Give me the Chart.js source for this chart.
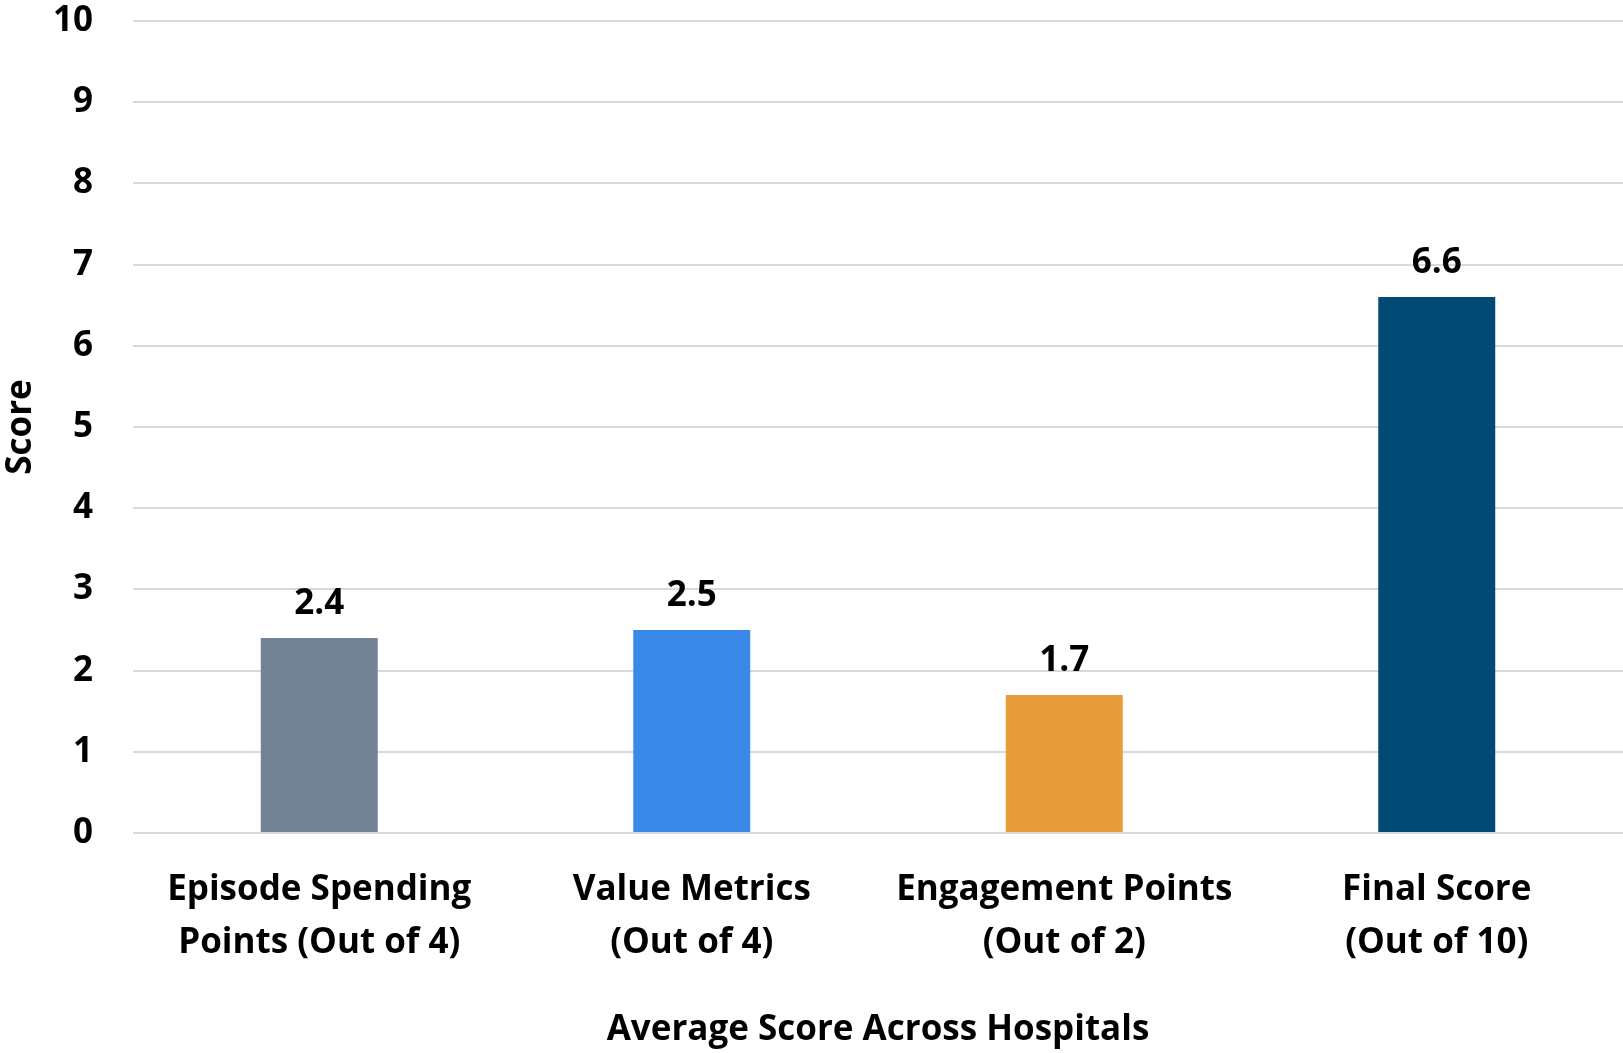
<!DOCTYPE html>
<html>
<head>
<meta charset="utf-8">
<script src="https://cdn.jsdelivr.net/npm/chart.js@4"></script>
<style>
  html, body { margin: 0; padding: 0; background: #fff; }
  #wrap { width: 1623px; height: 1053px; }
</style>
</head>
<body>
<div id="wrap"><canvas id="scoreChart"></canvas></div>
<script>
// chart data
const categories = [
  ["Episode Spending", "Points (Out of 4)"],
  ["Value Metrics", "(Out of 4)"],
  ["Engagement Points", "(Out of 2)"],
  ["Final Score", "(Out of 10)"]
];
const scores = [2.4, 2.5, 1.7, 6.6];
const barColors = ["#738395", "#3a89e8", "#e89b3a", "#024a74"];

const FONT = "'Open Sans', 'DejaVu Sans', sans-serif";

// draws the value above each bar
const valueLabels = {
  id: "valueLabels",
  afterDatasetsDraw(chart) {
    const ctx = chart.ctx;
    const meta = chart.getDatasetMeta(0);
    ctx.save();
    ctx.font = "bold 35px " + FONT;
    ctx.fillStyle = "#000";
    ctx.textAlign = "center";
    ctx.textBaseline = "middle";
    meta.data.forEach((bar, i) => {
      ctx.fillText(scores[i].toFixed(1), bar.x, bar.y - 34);
    });
    ctx.restore();
  }
};

const ctx = document.getElementById("scoreChart").getContext("2d");
new Chart(ctx, {
  type: "bar",
  data: {
    labels: categories,
    datasets: [
      {
        label: "Score",
        data: scores,
        backgroundColor: barColors,
        borderWidth: 0,
        barPercentage: 0.314,
        categoryPercentage: 1.0,
      },
    ],
  },
  options: {
    responsive: true,
    maintainAspectRatio: false,
    animation: false,
    layout: { padding: 0 },
    plugins: {
      legend: { display: false },
      tooltip: { enabled: false },
    },
    scales: {
      x: {
        grid: { display: false, drawTicks: false },
        border: { display: false },
        ticks: {
          color: "#000",
          padding: 31,
          maxRotation: 0,
          font: { family: FONT, size: 35, weight: "bold", lineHeight: 1.5 },
        },
        title: {
          display: true,
          text: "Average Score Across Hospitals",
          color: "#000",
          padding: { top: 0, bottom: 2 },
          font: { family: FONT, size: 35, weight: "bold" },
        },
        afterFit(scale) {
          scale.height = 220;
        },
      },
      y: {
        min: 0,
        max: 10,
        ticks: {
          stepSize: 1,
          color: "#000",
          padding: 40,
          font: { family: FONT, size: 35, weight: "bold" },
        },
        grid: { color: "#d9d9d9", lineWidth: 2, drawTicks: false },
        border: { display: false },
        title: {
          display: true,
          text: "Score",
          color: "#000",
          padding: 0,
          font: { family: FONT, size: 35, weight: "bold" },
        },
        afterFit(scale) {
          scale.width = 133;
          // keep the top gridline near the canvas edge
          scale.paddingTop = 21;
          scale.paddingBottom = 0;
        },
      },
    },
  },
  plugins: [valueLabels],
});
</script>
</body>
</html>
